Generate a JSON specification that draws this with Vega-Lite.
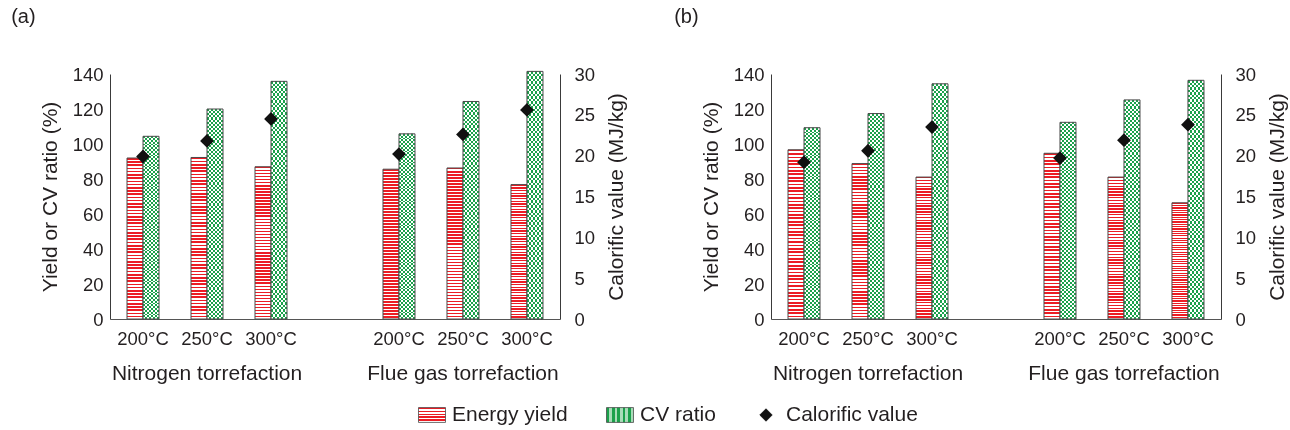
{
"$schema": "https://vega.github.io/schema/vega-lite/v6.json",
"background": "white",
"padding": {"left": 11, "top": 7, "right": 5, "bottom": 5},
"spacing": 47,
"params": [
  {"name": "redLeg", "value": {"gradient": "linear", "x1": 0, "y1": 0, "x2": 0, "y2": 1, "stops": [{"offset":0,"color":"#ec1c24"},{"offset":0.1,"color":"#ec1c24"},{"offset":0.1,"color":"#fff"},{"offset":0.2,"color":"#fff"},{"offset":0.2,"color":"#ec1c24"},{"offset":0.3,"color":"#ec1c24"},{"offset":0.3,"color":"#fff"},{"offset":0.4,"color":"#fff"},{"offset":0.4,"color":"#ec1c24"},{"offset":0.5,"color":"#ec1c24"},{"offset":0.5,"color":"#fff"},{"offset":0.6,"color":"#fff"},{"offset":0.6,"color":"#ec1c24"},{"offset":0.7,"color":"#ec1c24"},{"offset":0.7,"color":"#fff"},{"offset":0.8,"color":"#fff"},{"offset":0.8,"color":"#ec1c24"},{"offset":0.9,"color":"#ec1c24"},{"offset":0.9,"color":"#fff"},{"offset":1,"color":"#fff"}]}},
  {"name": "greenLeg", "value": {"gradient": "linear", "x1": 0, "y1": 0, "x2": 1, "y2": 0, "stops": [{"offset":0,"color":"#1ba14b"},{"offset":0.1,"color":"#1ba14b"},{"offset":0.1,"color":"#a8dcb8"},{"offset":0.2,"color":"#a8dcb8"},{"offset":0.2,"color":"#1ba14b"},{"offset":0.3,"color":"#1ba14b"},{"offset":0.3,"color":"#a8dcb8"},{"offset":0.4,"color":"#a8dcb8"},{"offset":0.4,"color":"#1ba14b"},{"offset":0.5,"color":"#1ba14b"},{"offset":0.5,"color":"#a8dcb8"},{"offset":0.6,"color":"#a8dcb8"},{"offset":0.6,"color":"#1ba14b"},{"offset":0.7,"color":"#1ba14b"},{"offset":0.7,"color":"#a8dcb8"},{"offset":0.8,"color":"#a8dcb8"},{"offset":0.8,"color":"#1ba14b"},{"offset":0.9,"color":"#1ba14b"},{"offset":0.9,"color":"#a8dcb8"},{"offset":1,"color":"#a8dcb8"}]}},
  {"name": "redFill", "value": {"gradient": "linear", "x1": 0, "y1": 0, "x2": 0, "y2": 1, "stops": [
{"offset":0,"color":"#ec1c24"},{"offset":0.01,"color":"#ec1c24"},{"offset":0.01,"color":"#fff"},{"offset":0.02,"color":"#fff"},{"offset":0.02,"color":"#ec1c24"},{"offset":0.03,"color":"#ec1c24"},{"offset":0.03,"color":"#fff"},{"offset":0.04,"color":"#fff"},{"offset":0.04,"color":"#ec1c24"},{"offset":0.05,"color":"#ec1c24"},{"offset":0.05,"color":"#fff"},{"offset":0.06,"color":"#fff"},{"offset":0.06,"color":"#ec1c24"},{"offset":0.07,"color":"#ec1c24"},{"offset":0.07,"color":"#fff"},{"offset":0.08,"color":"#fff"},{"offset":0.08,"color":"#ec1c24"},{"offset":0.09,"color":"#ec1c24"},{"offset":0.09,"color":"#fff"},{"offset":0.1,"color":"#fff"},{"offset":0.1,"color":"#ec1c24"},{"offset":0.11,"color":"#ec1c24"},{"offset":0.11,"color":"#fff"},{"offset":0.12,"color":"#fff"},{"offset":0.12,"color":"#ec1c24"},{"offset":0.13,"color":"#ec1c24"},{"offset":0.13,"color":"#fff"},{"offset":0.14,"color":"#fff"},{"offset":0.14,"color":"#ec1c24"},{"offset":0.15,"color":"#ec1c24"},{"offset":0.15,"color":"#fff"},{"offset":0.16,"color":"#fff"},{"offset":0.16,"color":"#ec1c24"},{"offset":0.17,"color":"#ec1c24"},{"offset":0.17,"color":"#fff"},{"offset":0.18,"color":"#fff"},{"offset":0.18,"color":"#ec1c24"},{"offset":0.19,"color":"#ec1c24"},{"offset":0.19,"color":"#fff"},{"offset":0.2,"color":"#fff"},{"offset":0.2,"color":"#ec1c24"},{"offset":0.21,"color":"#ec1c24"},{"offset":0.21,"color":"#fff"},{"offset":0.22,"color":"#fff"},{"offset":0.22,"color":"#ec1c24"},{"offset":0.23,"color":"#ec1c24"},{"offset":0.23,"color":"#fff"},{"offset":0.24,"color":"#fff"},{"offset":0.24,"color":"#ec1c24"},{"offset":0.25,"color":"#ec1c24"},{"offset":0.25,"color":"#fff"},{"offset":0.26,"color":"#fff"},{"offset":0.26,"color":"#ec1c24"},{"offset":0.27,"color":"#ec1c24"},{"offset":0.27,"color":"#fff"},{"offset":0.28,"color":"#fff"},{"offset":0.28,"color":"#ec1c24"},{"offset":0.29,"color":"#ec1c24"},{"offset":0.29,"color":"#fff"},{"offset":0.3,"color":"#fff"},{"offset":0.3,"color":"#ec1c24"},{"offset":0.31,"color":"#ec1c24"},{"offset":0.31,"color":"#fff"},{"offset":0.32,"color":"#fff"},{"offset":0.32,"color":"#ec1c24"},{"offset":0.33,"color":"#ec1c24"},{"offset":0.33,"color":"#fff"},{"offset":0.34,"color":"#fff"},{"offset":0.34,"color":"#ec1c24"},{"offset":0.35,"color":"#ec1c24"},{"offset":0.35,"color":"#fff"},{"offset":0.36,"color":"#fff"},{"offset":0.36,"color":"#ec1c24"},{"offset":0.37,"color":"#ec1c24"},{"offset":0.37,"color":"#fff"},{"offset":0.38,"color":"#fff"},{"offset":0.38,"color":"#ec1c24"},{"offset":0.39,"color":"#ec1c24"},{"offset":0.39,"color":"#fff"},{"offset":0.4,"color":"#fff"},{"offset":0.4,"color":"#ec1c24"},{"offset":0.41,"color":"#ec1c24"},{"offset":0.41,"color":"#fff"},{"offset":0.42,"color":"#fff"},{"offset":0.42,"color":"#ec1c24"},{"offset":0.43,"color":"#ec1c24"},{"offset":0.43,"color":"#fff"},{"offset":0.44,"color":"#fff"},{"offset":0.44,"color":"#ec1c24"},{"offset":0.45,"color":"#ec1c24"},{"offset":0.45,"color":"#fff"},{"offset":0.46,"color":"#fff"},{"offset":0.46,"color":"#ec1c24"},{"offset":0.47,"color":"#ec1c24"},{"offset":0.47,"color":"#fff"},{"offset":0.48,"color":"#fff"},{"offset":0.48,"color":"#ec1c24"},{"offset":0.49,"color":"#ec1c24"},{"offset":0.49,"color":"#fff"},{"offset":0.5,"color":"#fff"},{"offset":0.5,"color":"#ec1c24"},{"offset":0.51,"color":"#ec1c24"},{"offset":0.51,"color":"#fff"},{"offset":0.52,"color":"#fff"},{"offset":0.52,"color":"#ec1c24"},{"offset":0.53,"color":"#ec1c24"},{"offset":0.53,"color":"#fff"},{"offset":0.54,"color":"#fff"},{"offset":0.54,"color":"#ec1c24"},{"offset":0.55,"color":"#ec1c24"},{"offset":0.55,"color":"#fff"},{"offset":0.56,"color":"#fff"},{"offset":0.56,"color":"#ec1c24"},{"offset":0.57,"color":"#ec1c24"},{"offset":0.57,"color":"#fff"},{"offset":0.58,"color":"#fff"},{"offset":0.58,"color":"#ec1c24"},{"offset":0.59,"color":"#ec1c24"},{"offset":0.59,"color":"#fff"},{"offset":0.6,"color":"#fff"},{"offset":0.6,"color":"#ec1c24"},{"offset":0.61,"color":"#ec1c24"},{"offset":0.61,"color":"#fff"},{"offset":0.62,"color":"#fff"},{"offset":0.62,"color":"#ec1c24"},{"offset":0.63,"color":"#ec1c24"},{"offset":0.63,"color":"#fff"},{"offset":0.64,"color":"#fff"},{"offset":0.64,"color":"#ec1c24"},{"offset":0.65,"color":"#ec1c24"},{"offset":0.65,"color":"#fff"},{"offset":0.66,"color":"#fff"},{"offset":0.66,"color":"#ec1c24"},{"offset":0.67,"color":"#ec1c24"},{"offset":0.67,"color":"#fff"},{"offset":0.68,"color":"#fff"},{"offset":0.68,"color":"#ec1c24"},{"offset":0.69,"color":"#ec1c24"},{"offset":0.69,"color":"#fff"},{"offset":0.7,"color":"#fff"},{"offset":0.7,"color":"#ec1c24"},{"offset":0.71,"color":"#ec1c24"},{"offset":0.71,"color":"#fff"},{"offset":0.72,"color":"#fff"},{"offset":0.72,"color":"#ec1c24"},{"offset":0.73,"color":"#ec1c24"},{"offset":0.73,"color":"#fff"},{"offset":0.74,"color":"#fff"},{"offset":0.74,"color":"#ec1c24"},{"offset":0.75,"color":"#ec1c24"},{"offset":0.75,"color":"#fff"},{"offset":0.76,"color":"#fff"},{"offset":0.76,"color":"#ec1c24"},{"offset":0.77,"color":"#ec1c24"},{"offset":0.77,"color":"#fff"},{"offset":0.78,"color":"#fff"},{"offset":0.78,"color":"#ec1c24"},{"offset":0.79,"color":"#ec1c24"},{"offset":0.79,"color":"#fff"},{"offset":0.8,"color":"#fff"},{"offset":0.8,"color":"#ec1c24"},{"offset":0.81,"color":"#ec1c24"},{"offset":0.81,"color":"#fff"},{"offset":0.82,"color":"#fff"},{"offset":0.82,"color":"#ec1c24"},{"offset":0.83,"color":"#ec1c24"},{"offset":0.83,"color":"#fff"},{"offset":0.84,"color":"#fff"},{"offset":0.84,"color":"#ec1c24"},{"offset":0.85,"color":"#ec1c24"},{"offset":0.85,"color":"#fff"},{"offset":0.86,"color":"#fff"},{"offset":0.86,"color":"#ec1c24"},{"offset":0.87,"color":"#ec1c24"},{"offset":0.87,"color":"#fff"},{"offset":0.88,"color":"#fff"},{"offset":0.88,"color":"#ec1c24"},{"offset":0.89,"color":"#ec1c24"},{"offset":0.89,"color":"#fff"},{"offset":0.9,"color":"#fff"},{"offset":0.9,"color":"#ec1c24"},{"offset":0.91,"color":"#ec1c24"},{"offset":0.91,"color":"#fff"},{"offset":0.92,"color":"#fff"},{"offset":0.92,"color":"#ec1c24"},{"offset":0.93,"color":"#ec1c24"},{"offset":0.93,"color":"#fff"},{"offset":0.94,"color":"#fff"},{"offset":0.94,"color":"#ec1c24"},{"offset":0.95,"color":"#ec1c24"},{"offset":0.95,"color":"#fff"},{"offset":0.96,"color":"#fff"},{"offset":0.96,"color":"#ec1c24"},{"offset":0.97,"color":"#ec1c24"},{"offset":0.97,"color":"#fff"},{"offset":0.98,"color":"#fff"},{"offset":0.98,"color":"#ec1c24"},{"offset":0.99,"color":"#ec1c24"},{"offset":0.99,"color":"#fff"},{"offset":1,"color":"#fff"}]}},
  {"name": "chkVFill", "value": {"gradient": "linear", "x1": 0, "y1": 0, "x2": 1, "y2": 0, "stops": [
{"offset":0,"color":"#000"},{"offset":0.125,"color":"#000"},{"offset":0.125,"color":"#fff"},{"offset":0.25,"color":"#fff"},{"offset":0.25,"color":"#000"},{"offset":0.375,"color":"#000"},{"offset":0.375,"color":"#fff"},{"offset":0.5,"color":"#fff"},{"offset":0.5,"color":"#000"},{"offset":0.625,"color":"#000"},{"offset":0.625,"color":"#fff"},{"offset":0.75,"color":"#fff"},{"offset":0.75,"color":"#000"},{"offset":0.875,"color":"#000"},{"offset":0.875,"color":"#fff"},{"offset":1,"color":"#fff"}]}},
  {"name": "chkHFill", "value": {"gradient": "linear", "x1": 0, "y1": 0, "x2": 0, "y2": 1, "stops": [
{"offset":0,"color":"#000"},{"offset":0.01,"color":"#000"},{"offset":0.01,"color":"#fff"},{"offset":0.02,"color":"#fff"},{"offset":0.02,"color":"#000"},{"offset":0.03,"color":"#000"},{"offset":0.03,"color":"#fff"},{"offset":0.04,"color":"#fff"},{"offset":0.04,"color":"#000"},{"offset":0.05,"color":"#000"},{"offset":0.05,"color":"#fff"},{"offset":0.06,"color":"#fff"},{"offset":0.06,"color":"#000"},{"offset":0.07,"color":"#000"},{"offset":0.07,"color":"#fff"},{"offset":0.08,"color":"#fff"},{"offset":0.08,"color":"#000"},{"offset":0.09,"color":"#000"},{"offset":0.09,"color":"#fff"},{"offset":0.1,"color":"#fff"},{"offset":0.1,"color":"#000"},{"offset":0.11,"color":"#000"},{"offset":0.11,"color":"#fff"},{"offset":0.12,"color":"#fff"},{"offset":0.12,"color":"#000"},{"offset":0.13,"color":"#000"},{"offset":0.13,"color":"#fff"},{"offset":0.14,"color":"#fff"},{"offset":0.14,"color":"#000"},{"offset":0.15,"color":"#000"},{"offset":0.15,"color":"#fff"},{"offset":0.16,"color":"#fff"},{"offset":0.16,"color":"#000"},{"offset":0.17,"color":"#000"},{"offset":0.17,"color":"#fff"},{"offset":0.18,"color":"#fff"},{"offset":0.18,"color":"#000"},{"offset":0.19,"color":"#000"},{"offset":0.19,"color":"#fff"},{"offset":0.2,"color":"#fff"},{"offset":0.2,"color":"#000"},{"offset":0.21,"color":"#000"},{"offset":0.21,"color":"#fff"},{"offset":0.22,"color":"#fff"},{"offset":0.22,"color":"#000"},{"offset":0.23,"color":"#000"},{"offset":0.23,"color":"#fff"},{"offset":0.24,"color":"#fff"},{"offset":0.24,"color":"#000"},{"offset":0.25,"color":"#000"},{"offset":0.25,"color":"#fff"},{"offset":0.26,"color":"#fff"},{"offset":0.26,"color":"#000"},{"offset":0.27,"color":"#000"},{"offset":0.27,"color":"#fff"},{"offset":0.28,"color":"#fff"},{"offset":0.28,"color":"#000"},{"offset":0.29,"color":"#000"},{"offset":0.29,"color":"#fff"},{"offset":0.3,"color":"#fff"},{"offset":0.3,"color":"#000"},{"offset":0.31,"color":"#000"},{"offset":0.31,"color":"#fff"},{"offset":0.32,"color":"#fff"},{"offset":0.32,"color":"#000"},{"offset":0.33,"color":"#000"},{"offset":0.33,"color":"#fff"},{"offset":0.34,"color":"#fff"},{"offset":0.34,"color":"#000"},{"offset":0.35,"color":"#000"},{"offset":0.35,"color":"#fff"},{"offset":0.36,"color":"#fff"},{"offset":0.36,"color":"#000"},{"offset":0.37,"color":"#000"},{"offset":0.37,"color":"#fff"},{"offset":0.38,"color":"#fff"},{"offset":0.38,"color":"#000"},{"offset":0.39,"color":"#000"},{"offset":0.39,"color":"#fff"},{"offset":0.4,"color":"#fff"},{"offset":0.4,"color":"#000"},{"offset":0.41,"color":"#000"},{"offset":0.41,"color":"#fff"},{"offset":0.42,"color":"#fff"},{"offset":0.42,"color":"#000"},{"offset":0.43,"color":"#000"},{"offset":0.43,"color":"#fff"},{"offset":0.44,"color":"#fff"},{"offset":0.44,"color":"#000"},{"offset":0.45,"color":"#000"},{"offset":0.45,"color":"#fff"},{"offset":0.46,"color":"#fff"},{"offset":0.46,"color":"#000"},{"offset":0.47,"color":"#000"},{"offset":0.47,"color":"#fff"},{"offset":0.48,"color":"#fff"},{"offset":0.48,"color":"#000"},{"offset":0.49,"color":"#000"},{"offset":0.49,"color":"#fff"},{"offset":0.5,"color":"#fff"},{"offset":0.5,"color":"#000"},{"offset":0.51,"color":"#000"},{"offset":0.51,"color":"#fff"},{"offset":0.52,"color":"#fff"},{"offset":0.52,"color":"#000"},{"offset":0.53,"color":"#000"},{"offset":0.53,"color":"#fff"},{"offset":0.54,"color":"#fff"},{"offset":0.54,"color":"#000"},{"offset":0.55,"color":"#000"},{"offset":0.55,"color":"#fff"},{"offset":0.56,"color":"#fff"},{"offset":0.56,"color":"#000"},{"offset":0.57,"color":"#000"},{"offset":0.57,"color":"#fff"},{"offset":0.58,"color":"#fff"},{"offset":0.58,"color":"#000"},{"offset":0.59,"color":"#000"},{"offset":0.59,"color":"#fff"},{"offset":0.6,"color":"#fff"},{"offset":0.6,"color":"#000"},{"offset":0.61,"color":"#000"},{"offset":0.61,"color":"#fff"},{"offset":0.62,"color":"#fff"},{"offset":0.62,"color":"#000"},{"offset":0.63,"color":"#000"},{"offset":0.63,"color":"#fff"},{"offset":0.64,"color":"#fff"},{"offset":0.64,"color":"#000"},{"offset":0.65,"color":"#000"},{"offset":0.65,"color":"#fff"},{"offset":0.66,"color":"#fff"},{"offset":0.66,"color":"#000"},{"offset":0.67,"color":"#000"},{"offset":0.67,"color":"#fff"},{"offset":0.68,"color":"#fff"},{"offset":0.68,"color":"#000"},{"offset":0.69,"color":"#000"},{"offset":0.69,"color":"#fff"},{"offset":0.7,"color":"#fff"},{"offset":0.7,"color":"#000"},{"offset":0.71,"color":"#000"},{"offset":0.71,"color":"#fff"},{"offset":0.72,"color":"#fff"},{"offset":0.72,"color":"#000"},{"offset":0.73,"color":"#000"},{"offset":0.73,"color":"#fff"},{"offset":0.74,"color":"#fff"},{"offset":0.74,"color":"#000"},{"offset":0.75,"color":"#000"},{"offset":0.75,"color":"#fff"},{"offset":0.76,"color":"#fff"},{"offset":0.76,"color":"#000"},{"offset":0.77,"color":"#000"},{"offset":0.77,"color":"#fff"},{"offset":0.78,"color":"#fff"},{"offset":0.78,"color":"#000"},{"offset":0.79,"color":"#000"},{"offset":0.79,"color":"#fff"},{"offset":0.8,"color":"#fff"},{"offset":0.8,"color":"#000"},{"offset":0.81,"color":"#000"},{"offset":0.81,"color":"#fff"},{"offset":0.82,"color":"#fff"},{"offset":0.82,"color":"#000"},{"offset":0.83,"color":"#000"},{"offset":0.83,"color":"#fff"},{"offset":0.84,"color":"#fff"},{"offset":0.84,"color":"#000"},{"offset":0.85,"color":"#000"},{"offset":0.85,"color":"#fff"},{"offset":0.86,"color":"#fff"},{"offset":0.86,"color":"#000"},{"offset":0.87,"color":"#000"},{"offset":0.87,"color":"#fff"},{"offset":0.88,"color":"#fff"},{"offset":0.88,"color":"#000"},{"offset":0.89,"color":"#000"},{"offset":0.89,"color":"#fff"},{"offset":0.9,"color":"#fff"},{"offset":0.9,"color":"#000"},{"offset":0.91,"color":"#000"},{"offset":0.91,"color":"#fff"},{"offset":0.92,"color":"#fff"},{"offset":0.92,"color":"#000"},{"offset":0.93,"color":"#000"},{"offset":0.93,"color":"#fff"},{"offset":0.94,"color":"#fff"},{"offset":0.94,"color":"#000"},{"offset":0.95,"color":"#000"},{"offset":0.95,"color":"#fff"},{"offset":0.96,"color":"#fff"},{"offset":0.96,"color":"#000"},{"offset":0.97,"color":"#000"},{"offset":0.97,"color":"#fff"},{"offset":0.98,"color":"#fff"},{"offset":0.98,"color":"#000"},{"offset":0.99,"color":"#000"},{"offset":0.99,"color":"#fff"},{"offset":1,"color":"#fff"}]}}
],
"config": {
  "font": "Liberation Sans",
  "view": {"stroke": null},
  "title": {"fontWeight": "normal", "color": "#231f20", "font": "Liberation Sans"},
  "axis": {"labelColor": "#231f20", "titleColor": "#231f20", "titleFontWeight": "normal", "grid": false, "ticks": false, "domainColor": "#3a3a3a", "labelOverlap": false, "labelBound": false, "labelFlush": false}
},
"data": {"values": [
{"panel":"a","cat":"N-200°C","series":"Energy yield","value":92},
{"panel":"a","cat":"N-200°C","series":"CV ratio","value":104.4},
{"panel":"a","cat":"N-200°C","series":"Calorific value","value":19.9},
{"panel":"a","cat":"N-250°C","series":"Energy yield","value":92.3},
{"panel":"a","cat":"N-250°C","series":"CV ratio","value":120},
{"panel":"a","cat":"N-250°C","series":"Calorific value","value":21.8},
{"panel":"a","cat":"N-300°C","series":"Energy yield","value":87},
{"panel":"a","cat":"N-300°C","series":"CV ratio","value":135.8},
{"panel":"a","cat":"N-300°C","series":"Calorific value","value":24.5},
{"panel":"a","cat":"F-200°C","series":"Energy yield","value":85.6},
{"panel":"a","cat":"F-200°C","series":"CV ratio","value":105.8},
{"panel":"a","cat":"F-200°C","series":"Calorific value","value":20.2},
{"panel":"a","cat":"F-250°C","series":"Energy yield","value":86.3},
{"panel":"a","cat":"F-250°C","series":"CV ratio","value":124.3},
{"panel":"a","cat":"F-250°C","series":"Calorific value","value":22.6},
{"panel":"a","cat":"F-300°C","series":"Energy yield","value":76.8},
{"panel":"a","cat":"F-300°C","series":"CV ratio","value":141.5},
{"panel":"a","cat":"F-300°C","series":"Calorific value","value":25.6},
{"panel":"b","cat":"N-200°C","series":"Energy yield","value":96.7},
{"panel":"b","cat":"N-200°C","series":"CV ratio","value":109.3},
{"panel":"b","cat":"N-200°C","series":"Calorific value","value":19.2},
{"panel":"b","cat":"N-250°C","series":"Energy yield","value":88.8},
{"panel":"b","cat":"N-250°C","series":"CV ratio","value":117.4},
{"panel":"b","cat":"N-250°C","series":"Calorific value","value":20.6},
{"panel":"b","cat":"N-300°C","series":"Energy yield","value":81.1},
{"panel":"b","cat":"N-300°C","series":"CV ratio","value":134.4},
{"panel":"b","cat":"N-300°C","series":"Calorific value","value":23.5},
{"panel":"b","cat":"F-200°C","series":"Energy yield","value":94.7},
{"panel":"b","cat":"F-200°C","series":"CV ratio","value":112.4},
{"panel":"b","cat":"F-200°C","series":"Calorific value","value":19.7},
{"panel":"b","cat":"F-250°C","series":"Energy yield","value":81.1},
{"panel":"b","cat":"F-250°C","series":"CV ratio","value":125.2},
{"panel":"b","cat":"F-250°C","series":"Calorific value","value":21.9},
{"panel":"b","cat":"F-300°C","series":"Energy yield","value":66.4},
{"panel":"b","cat":"F-300°C","series":"CV ratio","value":136.4},
{"panel":"b","cat":"F-300°C","series":"Calorific value","value":23.8}
]},
"hconcat": [
{
  "title": {"text": "(a)", "anchor": "start", "frame": "bounds", "dx": -28, "fontSize": 20, "offset": 38},
  "width": 450, "height": 245,
  "transform": [{"filter": "datum.panel === 'a'"}],
  "layer": [
    {
      "encoding": {
        "x": {"field": "cat", "type": "nominal", "scale": {"domain": ["N-200°C","N-250°C","N-300°C","gap","F-200°C","F-250°C","F-300°C"], "paddingInner": 0.5, "paddingOuter": 0.266},
              "axis": {"orient": "bottom", "title": null, "labelAngle": 0, "labelFontSize": 18.5, "labelPadding": 10, "domainColor": "#555", "labelExpr": "datum.value === 'gap' ? '' : slice(datum.value, 2)"}},
        "xOffset": {"field": "series", "type": "nominal", "scale": {"domain": ["Energy yield", "CV ratio"]}},
        "y": {"field": "value", "type": "quantitative", "scale": {"domain": [0, 140], "nice": false},
              "axis": {"orient": "left", "values": [0,20,40,60,80,100,120,140], "labelFontSize": 18.5, "labelPadding": 7, "title": "Yield or CV ratio (%)", "titleFontSize": 21, "titlePadding": 12}}
      },
      "layer": [
        {"transform": [{"filter": "datum.series === 'Energy yield'"}], "mark": {"type": "bar", "fill": {"expr": "redFill"}, "stroke": "#4a4a4a", "strokeWidth": 1}},
        {"transform": [{"filter": "datum.series === 'CV ratio'"}], "mark": {"type": "bar", "fill": {"expr": "chkVFill"}}},
        {"transform": [{"filter": "datum.series === 'CV ratio'"}], "mark": {"type": "bar", "fill": {"expr": "chkHFill"}, "blend": "difference"}},
        {"transform": [{"filter": "datum.series === 'CV ratio'"}], "mark": {"type": "bar", "fill": "#1ba14b", "blend": "screen"}},
        {"transform": [{"filter": "datum.series === 'CV ratio'"}], "mark": {"type": "bar", "fill": "transparent", "stroke": "#4a4a4a", "strokeWidth": 1}}
      ]
    },
    {
      "transform": [{"filter": "datum.series === 'Calorific value'"}],
      "mark": {"type": "point", "filled": true, "size": 900, "opacity": 1},
      "encoding": {
        "x": {"field": "cat", "type": "nominal", "axis": {"orient": "bottom", "title": null, "labelAngle": 0, "labelFontSize": 21, "labelPadding": 43, "labelLimit": 0, "domain": false, "labelExpr": "datum.value === 'N-250°C' ? 'Nitrogen torrefaction' : datum.value === 'F-250°C' ? 'Flue gas torrefaction' : ''"}},
        "y": {"field": "value", "type": "quantitative", "scale": {"domain": [0, 30], "nice": false},
              "axis": {"orient": "right", "values": [0,5,10,15,20,25,30], "labelFontSize": 18.5, "labelPadding": 14, "title": "Calorific value (MJ/kg)", "titleFontSize": 21, "titleAngle": 270, "titleBaseline": "top", "titlePadding": 11}},
        "color": {"field": "series", "type": "nominal", "scale": {"domain": ["Energy yield", "CV ratio", "Calorific value"], "range": [{"expr": "redLeg"}, {"expr": "greenLeg"}, "#111111"]},
                  "legend": {"orient": "none", "legendX": 308, "legendY": 327, "padding": 0, "direction": "horizontal", "title": null, "labelFontSize": 21, "labelColor": "#231f20", "symbolSize": 729, "columnPadding": 36, "labelOffset": 6, "symbolOpacity": 1,
                    "encode": {"symbols": {"update": {
                      "stroke": [{"test": "datum.value === 'Calorific value'", "value": "#111111"}, {"value": "#4a4a4a"}],
                      "strokeWidth": {"value": 0.8}
                    }}}}},
        "shape": {"field": "series", "type": "nominal", "scale": {"domain": ["Energy yield", "CV ratio", "Calorific value"], "range": ["M-1,-0.55H1V0.55H-1Z", "M-1,-0.55H1V0.55H-1Z", "M0,-0.46L0.46,0L0,0.46L-0.46,0Z"]},
                  "legend": {"orient": "none", "legendX": 308, "legendY": 327, "padding": 0, "direction": "horizontal", "title": null}}
      }
    }
  ],
  "resolve": {"scale": {"y": "independent"}, "axis": {"x": "independent"}}
},
{
  "title": {"text": "(b)", "anchor": "start", "frame": "bounds", "dx": -26, "fontSize": 20, "offset": 38},
  "width": 450, "height": 245,
  "transform": [{"filter": "datum.panel === 'b'"}],
  "layer": [
    {
      "encoding": {
        "x": {"field": "cat", "type": "nominal", "scale": {"domain": ["N-200°C","N-250°C","N-300°C","gap","F-200°C","F-250°C","F-300°C"], "paddingInner": 0.5, "paddingOuter": 0.266},
              "axis": {"orient": "bottom", "title": null, "labelAngle": 0, "labelFontSize": 18.5, "labelPadding": 10, "domainColor": "#555", "labelExpr": "datum.value === 'gap' ? '' : slice(datum.value, 2)"}},
        "xOffset": {"field": "series", "type": "nominal", "scale": {"domain": ["Energy yield", "CV ratio"]}},
        "y": {"field": "value", "type": "quantitative", "scale": {"domain": [0, 140], "nice": false},
              "axis": {"orient": "left", "values": [0,20,40,60,80,100,120,140], "labelFontSize": 18.5, "labelPadding": 7, "title": "Yield or CV ratio (%)", "titleFontSize": 21, "titlePadding": 12}}
      },
      "layer": [
        {"transform": [{"filter": "datum.series === 'Energy yield'"}], "mark": {"type": "bar", "fill": {"expr": "redFill"}, "stroke": "#4a4a4a", "strokeWidth": 1}},
        {"transform": [{"filter": "datum.series === 'CV ratio'"}], "mark": {"type": "bar", "fill": {"expr": "chkVFill"}}},
        {"transform": [{"filter": "datum.series === 'CV ratio'"}], "mark": {"type": "bar", "fill": {"expr": "chkHFill"}, "blend": "difference"}},
        {"transform": [{"filter": "datum.series === 'CV ratio'"}], "mark": {"type": "bar", "fill": "#1ba14b", "blend": "screen"}},
        {"transform": [{"filter": "datum.series === 'CV ratio'"}], "mark": {"type": "bar", "fill": "transparent", "stroke": "#4a4a4a", "strokeWidth": 1}}
      ]
    },
    {
      "transform": [{"filter": "datum.series === 'Calorific value'"}],
      "mark": {"type": "point", "filled": true, "size": 900, "opacity": 1},
      "encoding": {
        "x": {"field": "cat", "type": "nominal", "axis": {"orient": "bottom", "title": null, "labelAngle": 0, "labelFontSize": 21, "labelPadding": 43, "labelLimit": 0, "domain": false, "labelExpr": "datum.value === 'N-250°C' ? 'Nitrogen torrefaction' : datum.value === 'F-250°C' ? 'Flue gas torrefaction' : ''"}},
        "y": {"field": "value", "type": "quantitative", "scale": {"domain": [0, 30], "nice": false},
              "axis": {"orient": "right", "values": [0,5,10,15,20,25,30], "labelFontSize": 18.5, "labelPadding": 14, "title": "Calorific value (MJ/kg)", "titleFontSize": 21, "titleAngle": 270, "titleBaseline": "top", "titlePadding": 11}},
        "color": {"field": "series", "type": "nominal", "scale": {"domain": ["Energy yield", "CV ratio", "Calorific value"]}},
        "shape": {"field": "series", "type": "nominal", "scale": {"domain": ["Energy yield", "CV ratio", "Calorific value"]}}
      }
    }
  ],
  "resolve": {"scale": {"y": "independent"}, "axis": {"x": "independent"}}
}
]
}
